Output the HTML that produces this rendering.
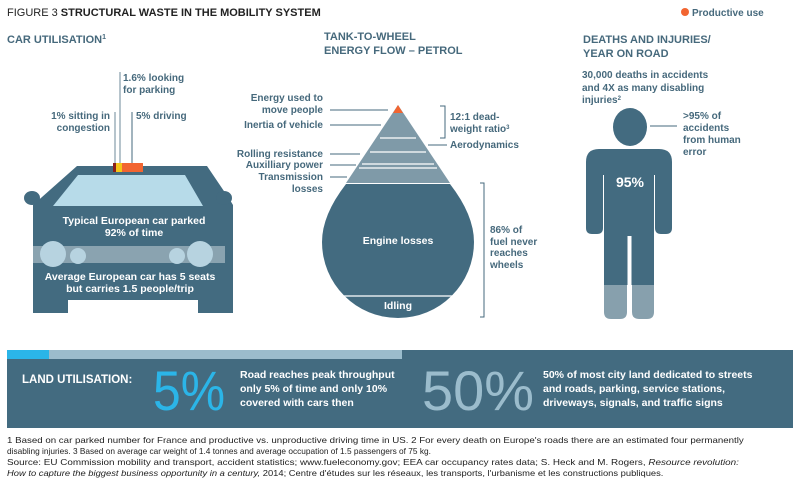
<!DOCTYPE html>
<html><head><meta charset="utf-8"><style>
body{margin:0;background:#fff;width:800px;height:477px;overflow:hidden;position:relative}
svg{display:block;font-family:"Liberation Sans",sans-serif}
.h{font-weight:bold;font-size:11px;fill:#46697c}
.l{font-weight:bold;font-size:10px;fill:#46697c}
.w{font-weight:bold;font-size:10.5px;fill:#fff}
.fn{position:absolute;left:7px;font-family:"Liberation Sans",sans-serif;font-size:8.3px;color:#222;white-space:nowrap;transform-origin:0 0;line-height:10px}
</style></head><body>
<svg width="800" height="477" viewBox="0 0 800 477">
<text x="7" y="16" font-size="11" fill="#222">FIGURE 3 <tspan font-weight="bold">STRUCTURAL WASTE IN THE MOBILITY SYSTEM</tspan></text>
<circle cx="685" cy="12" r="4" fill="#f26531"/>
<text x="692" y="16" class="l" fill="#46697c">Productive use</text>

<!-- CAR -->
<text x="7" y="43" class="h">CAR UTILISATION<tspan font-size="7" dy="-4">1</tspan></text>
<path d="M77,166 L207,166 L230,200 L233,205 L233,313 L198,313 L198,300 L68,300 L68,313 L33,313 L33,205 Z" fill="#436b80"/>
<ellipse cx="32" cy="198" rx="8" ry="7" fill="#436b80"/>
<ellipse cx="224" cy="198" rx="8" ry="7" fill="#436b80"/>
<path d="M78,175 L185,175 L203,206 L53,206 Z" fill="#b7dbe9"/>
<rect x="113" y="163" width="3" height="9" fill="#8b1f1a"/>
<rect x="116" y="163" width="6" height="9" fill="#f5c518"/>
<rect x="122" y="163" width="21" height="9" fill="#f26531"/>
<rect x="33" y="246" width="192" height="17" fill="#8aa3b0"/>
<circle cx="53" cy="254" r="13" fill="#b7d3e0"/><circle cx="78" cy="256" r="8" fill="#b7d3e0"/>
<circle cx="200" cy="254" r="13" fill="#b7d3e0"/><circle cx="177" cy="256" r="8" fill="#b7d3e0"/>
<text x="134" y="224" class="w" text-anchor="middle">Typical European car parked</text>
<text x="134" y="236" class="w" text-anchor="middle">92% of time</text>
<text x="130" y="280" class="w" text-anchor="middle">Average European car has 5 seats</text>
<text x="130" y="292" class="w" text-anchor="middle">but carries 1.5 people/trip</text>
<line x1="120" y1="72" x2="120" y2="163" stroke="#6d8a99"/>
<line x1="115" y1="112" x2="115" y2="163" stroke="#6d8a99"/>
<line x1="132" y1="112" x2="132" y2="163" stroke="#46697c"/>
<text x="123" y="81" class="l">1.6% looking</text><text x="123" y="93" class="l">for parking</text>
<text x="110" y="119" class="l" text-anchor="end">1% sitting in</text><text x="110" y="131" class="l" text-anchor="end">congestion</text>
<text x="136" y="119" class="l">5% driving</text>

<!-- DROP -->
<text x="324" y="40" class="h">TANK-TO-WHEEL</text>
<text x="324" y="54" class="h">ENERGY FLOW – PETROL</text>
<path d="M398,105 L450,183 L346,183 Z" fill="#7f9aa8"/>
<path d="M398,105 L403,113 L393,113 Z" fill="#f26531"/>
<g stroke="#fff" stroke-width="1.3">
<line x1="380" y1="138" x2="416" y2="138"/><line x1="370" y1="152" x2="426" y2="152"/>
<line x1="362" y1="164" x2="434" y2="164"/><line x1="359" y1="168" x2="437" y2="168"/>
</g>
<path d="M346,184 L450,184 Q474,215 474,242 A76,76 0 0 1 322,242 Q322,215 346,184 Z" fill="#436b80"/>
<line x1="330" y1="296" x2="466" y2="296" stroke="#fff" stroke-width="1.3"/>
<text x="398" y="244" class="w" text-anchor="middle">Engine losses</text>
<text x="398" y="309" class="w" text-anchor="middle">Idling</text>
<g stroke="#46697c">
<line x1="330" y1="110" x2="388" y2="110"/><line x1="330" y1="125" x2="381" y2="125"/>
<line x1="330" y1="154" x2="360" y2="154"/><line x1="330" y1="165" x2="356" y2="165"/><line x1="330" y1="177" x2="347" y2="177"/>
<line x1="428" y1="145" x2="447" y2="145"/>
<path d="M440,106 H445 V138 H440" fill="none"/>
<path d="M480,183 H484 V317 H480" fill="none"/>
</g>
<g class="l" text-anchor="end">
<text x="323" y="101">Energy used to</text><text x="323" y="113">move people</text>
<text x="323" y="128">Inertia of vehicle</text>
<text x="323" y="157">Rolling resistance</text><text x="323" y="168">Auxilliary power</text>
<text x="323" y="180">Transmission</text><text x="323" y="192">losses</text>
</g>
<text x="450" y="120" class="l">12:1 dead-</text><text x="450" y="132" class="l">weight ratio<tspan font-size="6" dy="-3">3</tspan></text>
<text x="450" y="148" class="l">Aerodynamics</text>
<text x="490" y="233" class="l">86% of</text><text x="490" y="245" class="l">fuel never</text>
<text x="490" y="256" class="l">reaches</text><text x="490" y="268" class="l">wheels</text>

<!-- PERSON -->
<text x="583" y="43" class="h">DEATHS AND INJURIES/</text>
<text x="583" y="57" class="h">YEAR ON ROAD</text>
<text x="582" y="78" class="l">30,000 deaths in accidents</text>
<text x="582" y="91" class="l">and 4X as many disabling</text>
<text x="582" y="103" class="l">injuries<tspan font-size="6" dy="-3">2</tspan></text>
<ellipse cx="630" cy="127" rx="17" ry="19" fill="#436b80"/>
<path d="M586,162 Q586,149 599,149 L659,149 Q672,149 672,162 L672,228 Q672,234 666,234 L661,234 Q655,234 655,228 L655,175 L654,175 L654,285 L604,285 L604,175 L603,175 L603,228 Q603,234 597,234 L592,234 Q586,234 586,228 Z" fill="#436b80"/>
<line x1="629.5" y1="236" x2="629.5" y2="320" stroke="#fff" stroke-width="4"/>
<path d="M604,285 H627 V312 Q627,319 620,319 H611 Q604,319 604,312 Z" fill="#87a0ad"/>
<path d="M632,285 H654 V312 Q654,319 647,319 H639 Q632,319 632,312 Z" fill="#87a0ad"/>
<text x="630" y="187" font-weight="bold" font-size="14" fill="#fff" text-anchor="middle">95%</text>
<line x1="650" y1="126" x2="677" y2="126" stroke="#46697c"/>
<text x="683" y="119" class="l">&gt;95% of</text><text x="683" y="131" class="l">accidents</text>
<text x="683" y="143" class="l">from human</text><text x="683" y="155" class="l">error</text>

<!-- PANEL -->
<rect x="7" y="350" width="786" height="78" fill="#436b80"/>
<rect x="7" y="350" width="42" height="9" fill="#2bb5e8"/>
<rect x="49" y="350" width="353" height="9" fill="#9bbccc"/>
<text x="22" y="383" font-weight="bold" font-size="11.5" fill="#fff">LAND UTILISATION:</text>
<text x="153" y="410" font-size="56" fill="#2bb5e8" textLength="72" lengthAdjust="spacingAndGlyphs">5%</text>
<text x="240" y="378" class="w" font-size="11.5">Road reaches peak throughput</text>
<text x="240" y="392" class="w" font-size="11.5">only 5% of time and only 10%</text>
<text x="240" y="406" class="w" font-size="11.5">covered with cars then</text>
<text x="422" y="410" font-size="56" fill="#9bbccc" textLength="112" lengthAdjust="spacingAndGlyphs">50%</text>
<text x="543" y="378" class="w" font-size="11.5">50% of most city land dedicated to streets</text>
<text x="543" y="392" class="w" font-size="11.5">and roads, parking, service stations,</text>
<text x="543" y="406" class="w" font-size="11.5">driveways, signals, and traffic signs</text>
</svg>
<div class="fn" style="top:435px;transform:scaleX(1.17)">1 Based on car parked number for France and productive vs. unproductive driving time in US.  2 For every death on Europe's roads there are an estimated four permanently</div>
<div class="fn" style="top:446px;transform:scaleX(1.0)">disabling injuries. 3 Based on average car weight of 1.4 tonnes and average occupation of 1.5 passengers of 75 kg.</div>
<div class="fn" style="top:457px;transform:scaleX(1.19)">Source: EU Commission mobility and transport, accident statistics; www.fueleconomy.gov; EEA car occupancy rates data; S. Heck and M. Rogers, <i>Resource revolution:</i></div>
<div class="fn" style="top:468px;transform:scaleX(1.13)"><i>How to capture the biggest business opportunity in a century,</i> 2014; Centre d'études sur les réseaux, les transports, l'urbanisme et les constructions publiques.</div>
</body></html>
